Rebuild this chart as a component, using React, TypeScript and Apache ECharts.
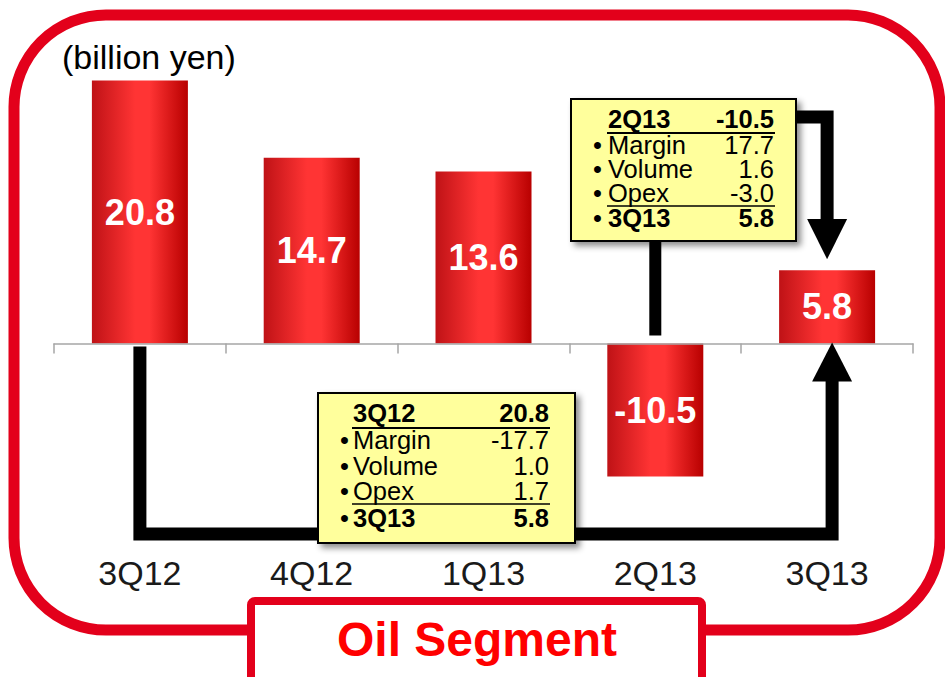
import React, { useEffect, useRef } from "react";
import * as echarts from "echarts";

const categories = ["3Q12", "4Q12", "1Q13", "2Q13", "3Q13"];
const profits = [20.8, 14.7, 13.6, -10.5, 5.8];
const unitLabel = "(billion yen)";
const segmentTitle = "Oil Segment";

const bridgeALabels = ["3Q12", "Margin", "Volume", "Opex", "3Q13"];
const bridgeAValues = ["20.8", "-17.7", "1.0", "1.7", "5.8"];
const bridgeBLabels = ["2Q13", "Margin", "Volume", "Opex", "3Q13"];
const bridgeBValues = ["-10.5", "17.7", "1.6", "-3.0", "5.8"];

const FONT = '"Liberation Sans", Arial, Helvetica, sans-serif';
const FRAME_RED = "#e3001b";

function makeBox(
  left: number,
  top: number,
  w: number,
  h: number,
  bulletX: number,
  labelX: number,
  valueX: number,
  baselines: number[],
  headLineY: number,
  opexLineY: number,
  labels: string[],
  values: string[]
) {
  const fs = 25.5;
  const els: any[] = [];
  els.push({
    type: "rect",
    z: 20,
    shape: { x: left, y: top, width: w, height: h },
    style: {
      fill: "#ffff9c",
      stroke: "#000",
      lineWidth: 2,
      shadowBlur: 6,
      shadowOffsetX: 4,
      shadowOffsetY: 4,
      shadowColor: "rgba(0,0,0,0.45)",
    },
  });
  labels.forEach((lab, i) => {
    const bold = i === 0 || i === labels.length - 1;
    const y = baselines[i] - fs * 0.36;
    if (i > 0) {
      els.push({
        type: "text",
        z: 21,
        style: {
          text: "•",
          x: bulletX,
          y,
          fill: "#000",
          fontSize: fs,
          lineHeight: 21,
          fontFamily: FONT,
          align: "left",
          verticalAlign: "middle",
        },
      });
    }
    els.push({
      type: "text",
      z: 21,
      style: {
        text: lab,
        x: labelX,
        y,
        fill: "#000",
        fontSize: fs,
        lineHeight: 21,
        fontWeight: bold ? "bold" : "normal",
        fontFamily: FONT,
        align: "left",
        verticalAlign: "middle",
      },
    });
    els.push({
      type: "text",
      z: 21,
      style: {
        text: values[i],
        x: valueX,
        y,
        fill: "#000",
        fontSize: fs,
        lineHeight: 21,
        fontWeight: bold ? "bold" : "normal",
        fontFamily: FONT,
        align: "right",
        verticalAlign: "middle",
      },
    });
  });
  els.push({
    type: "line",
    z: 21,
    shape: { x1: labelX - 1, y1: headLineY, x2: valueX + 1, y2: headLineY },
    style: { stroke: "#000", lineWidth: 2.2 },
  });
  els.push({
    type: "line",
    z: 21,
    shape: { x1: labelX - 1, y1: opexLineY, x2: valueX + 1, y2: opexLineY },
    style: { stroke: "#000", lineWidth: 1.6 },
  });
  return els;
}

export default function App() {
  const ref = useRef<HTMLDivElement>(null);

  useEffect(() => {
    if (!ref.current) return;
    const chart = echarts.init(ref.current, undefined, { renderer: "svg" });
    const barGradient = new echarts.graphic.LinearGradient(0, 0, 1, 0, [
      { offset: 0, color: "#bf1216" },
      { offset: 0.45, color: "#ff3434" },
      { offset: 0.6, color: "#ff3434" },
      { offset: 1, color: "#b80000" },
    ]);
    chart.setOption({
      animation: false,
      backgroundColor: "#ffffff",
      grid: { left: 54, right: 32, top: 40, bottom: 131 },
      xAxis: [
        {
          type: "category",
          data: categories,
          axisLine: { onZero: true, lineStyle: { color: "#a6a6a6", width: 1.5 } },
          axisTick: { show: true, length: 10, lineStyle: { color: "#a6a6a6", width: 1.5 } },
          axisLabel: { show: false },
          splitLine: { show: false },
          z: 5,
        },
        {
          type: "category",
          data: categories,
          position: "bottom",
          axisLine: { show: false },
          axisTick: { show: false },
          axisLabel: {
            show: true,
            fontSize: 34,
            color: "#1a1a1a",
            fontFamily: FONT,
            margin: 10,
          },
        },
      ],
      yAxis: {
        type: "value",
        min: -16,
        max: 24,
        show: false,
        splitLine: { show: false },
      },
      series: [
        {
          type: "bar",
          data: profits,
          xAxisIndex: 0,
          barWidth: 96,
          itemStyle: { color: barGradient },
          label: {
            show: true,
            position: "inside",
            color: "#ffffff",
            fontSize: 36,
            fontWeight: "bold",
            fontFamily: FONT,
            formatter: (p: any) => p.value.toFixed(1),
          },
        },
      ],
    });

    const px = (i: number, v: number) =>
      chart.convertToPixel({ seriesIndex: 0 }, [i, v]) as number[];
    const zeroY = px(0, 0)[1];
    const xFirst = px(0, 0)[0];
    const xDip = px(3, 0)[0];
    const xLast = px(4, 0)[0];
    const lastTop = px(4, profits[4])[1];

    const blk = { stroke: "#000", lineWidth: 13, fill: "none", lineJoin: "miter", lineCap: "butt" };

    const graphics: any[] = [
      {
        type: "rect",
        z: 1,
        shape: { x: 14, y: 15, width: 926, height: 615, r: 92 },
        style: { fill: "none", stroke: FRAME_RED, lineWidth: 11 },
      },
      {
        type: "text",
        z: 10,
        style: {
          text: unitLabel,
          x: 62,
          y: 57,
          fill: "#000",
          fontSize: 34,
          fontFamily: FONT,
          align: "left",
          verticalAlign: "middle",
        },
      },
      // connector 3Q12 -> 3Q13 (bottom)
      {
        type: "polyline",
        z: 15,
        shape: {
          points: [
            [xFirst, zeroY + 3],
            [xFirst, 534],
            [xLast + 5, 534],
            [xLast + 5, zeroY + 37],
          ],
        },
        style: blk,
      },
      {
        type: "polygon",
        z: 15,
        shape: {
          points: [
            [xLast + 5 - 20, zeroY + 38],
            [xLast + 5 + 20, zeroY + 38],
            [xLast + 5, zeroY - 1],
          ],
        },
        style: { fill: "#000" },
      },
      // connector 2Q13 box -> 3Q13 (top)
      {
        type: "line",
        z: 15,
        shape: { x1: xDip, y1: 236, x2: xDip, y2: zeroY - 8 },
        style: { stroke: "#000", lineWidth: 12 },
      },
      {
        type: "polyline",
        z: 15,
        shape: {
          points: [
            [790, 117],
            [xLast, 117],
            [xLast, 222],
          ],
        },
        style: blk,
      },
      {
        type: "polygon",
        z: 15,
        shape: {
          points: [
            [xLast - 20, 219],
            [xLast + 20, 219],
            [xLast, lastTop - 11],
          ],
        },
        style: { fill: "#000" },
      },
      ...makeBox(318, 393, 257, 150, 340, 353, 549, [422, 449, 475, 500, 527], 428, 504, bridgeALabels, bridgeAValues),
      ...makeBox(571, 99, 225, 142, 593, 608, 774, [128, 154, 178, 202, 227], 133, 206, bridgeBLabels, bridgeBValues),
      {
        type: "rect",
        z: 25,
        shape: { x: 251, y: 601, width: 451, height: 95, r: 4 },
        style: { fill: "#ffffff", stroke: FRAME_RED, lineWidth: 8 },
      },
      {
        type: "text",
        z: 26,
        style: {
          text: segmentTitle,
          x: 477,
          y: 639,
          fill: "#ff0000",
          fontSize: 48,
          fontWeight: "bold",
          fontFamily: FONT,
          align: "center",
          verticalAlign: "middle",
        },
      },
    ];
    chart.setOption({ graphic: graphics });

    return () => chart.dispose();
  }, []);

  return (
    <div
      ref={ref}
      style={{ position: "fixed", left: 0, top: 0, width: 945, height: 677, background: "#fff" }}
    />
  );
}
